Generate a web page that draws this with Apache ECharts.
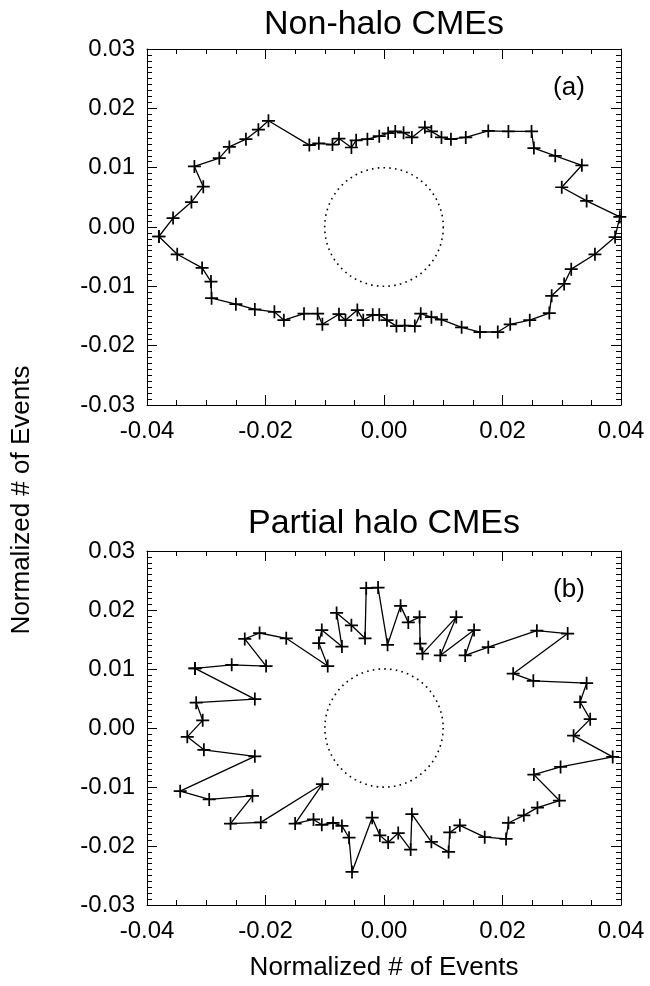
<!DOCTYPE html>
<html>
<head>
<meta charset="utf-8">
<script src="https://cdn.jsdelivr.net/npm/echarts@6/dist/echarts.min.js"></script>
<style>
  html, body { margin: 0; padding: 0; background: #fff; }
  #chart { width: 650px; height: 986px; }
</style>
</head>
<body>
<div id="chart"></div>
<script>
// Non-halo CMEs (a): points in drawing order around the curve
const nonHaloX = [-0.0380, -0.0356, -0.0325, -0.0305, -0.0320, -0.0278, -0.0261, -0.0233, -0.0212, -0.0195,
  -0.0126, -0.0110, -0.0087, -0.0076, -0.0055, -0.0047, -0.0028, -0.0008, 0.0007, 0.0019,
  0.0033, 0.0047, 0.0069, 0.0080, 0.0097, 0.0113, 0.0138, 0.0176, 0.0210, 0.0249,
  0.0253, 0.0289, 0.0334, 0.0300, 0.0342, 0.0398, 0.0390, 0.0356, 0.0316, 0.0304,
  0.0283, 0.0279, 0.0246, 0.0213, 0.0192, 0.0162, 0.0131, 0.0097, 0.0080, 0.0062,
  0.0052, 0.0035, 0.0021, 0.0005, -0.0008, -0.0019, -0.0035, -0.0045, -0.0065, -0.0076,
  -0.0104, -0.0112, -0.0135, -0.0169, -0.0185, -0.0218, -0.0250, -0.0291, -0.0292, -0.0307,
  -0.0349];
const nonHaloY = [-0.0016, 0.0015, 0.0042, 0.0068, 0.0102, 0.0116, 0.0135, 0.0148, 0.0164, 0.0179,
  0.0138, 0.0141, 0.0139, 0.0149, 0.0134, 0.0146, 0.0148, 0.0153, 0.0158, 0.0161,
  0.0159, 0.0151, 0.0168, 0.0161, 0.0151, 0.0148, 0.0151, 0.0162, 0.0161, 0.0161,
  0.0133, 0.0120, 0.0104, 0.0067, 0.0044, 0.0017, -0.0017, -0.0046, -0.0071, -0.0096,
  -0.0116, -0.0145, -0.0157, -0.0164, -0.0177, -0.0177, -0.0169, -0.0156, -0.0152, -0.0146,
  -0.0167, -0.0166, -0.0167, -0.0157, -0.0148, -0.0148, -0.0157, -0.0140, -0.0157, -0.0147,
  -0.0164, -0.0146, -0.0146, -0.0157, -0.0143, -0.0139, -0.0130, -0.0120, -0.0092, -0.0069,
  -0.0046];

// Partial halo CMEs (b)
const partialX = [-0.0319, -0.0257, -0.0199, -0.0235, -0.0210, -0.0165, -0.0095, -0.0110, -0.0105, -0.0071,
  -0.0080, -0.0055, -0.0032, -0.0030, -0.0010, 0.0006, 0.0028, 0.0041, 0.0060, 0.0061,
  0.0065, 0.0122, 0.0095, 0.0152, 0.0137, 0.0176, 0.0258, 0.0310, 0.0218, 0.0252,
  0.0342, 0.0331, 0.0348, 0.0320, 0.0386, 0.0298, 0.0253, 0.0296, 0.0259, 0.0236,
  0.0210, 0.0206, 0.0170, 0.0128, 0.0111, 0.0109, 0.0080, 0.0047, 0.0045, 0.0024,
  0.0007, -0.0007, -0.0020, -0.0054, -0.0059, -0.0071, -0.0086, -0.0105, -0.0119, -0.0150,
  -0.0104, -0.0208, -0.0259, -0.0222, -0.0295, -0.0344, -0.0218, -0.0304, -0.0332, -0.0306,
  -0.0317, -0.0218];
const partialY = [0.0101, 0.0107, 0.0105, 0.0151, 0.0161, 0.0152, 0.0105, 0.0144, 0.0166, 0.0138,
  0.0195, 0.0174, 0.0152, 0.0237, 0.0238, 0.0141, 0.0207, 0.0179, 0.0188, 0.0143,
  0.0126, 0.0188, 0.0123, 0.0166, 0.0123, 0.0137, 0.0165, 0.0160, 0.0092, 0.0080,
  0.0076, 0.0044, 0.0015, -0.0013, -0.0049, -0.0066, -0.0079, -0.0123, -0.0135, -0.0148,
  -0.0161, -0.0188, -0.0185, -0.0165, -0.0177, -0.0210, -0.0193, -0.0146, -0.0206, -0.0178,
  -0.0194, -0.0182, -0.0152, -0.0244, -0.0186, -0.0166, -0.0161, -0.0164, -0.0155, -0.0162,
  -0.0095, -0.0160, -0.0162, -0.0115, -0.0121, -0.0107, -0.0048, -0.0037, -0.0015, 0.0013,
  0.0043, 0.0049];

// dotted reference circle (centre x, centre y, radius)
const refCircle = [[0, 0, 0.01]];

const panelTitles = ['Non-halo CMEs', 'Partial halo CMEs'];
const panelTags = ['(a)', '(b)'];
const axisName = 'Normalized # of Events';

const FONT = '"Liberation Sans", Arial, Helvetica, sans-serif';
const PLUS = 'path://M5.2,0h1.6v5.2h5.2v1.6h-5.2v5.2h-1.6v-5.2h-5.2v-1.6h5.2z';

const grids = [
  { left: 147, top: 49, width: 474, height: 356 },
  { left: 147, top: 551, width: 474, height: 354 }
];

function fmt(v) {
  if (Math.abs(v) < 1e-9) return '0.00';
  return v.toFixed(2);
}

function closedPath(xs, ys) {
  const pts = xs.map((x, i) => [x, ys[i]]);
  pts.push(pts[0]);
  return pts;
}

function makeX(gridIndex, position, labels) {
  return {
    type: 'value', gridIndex: gridIndex, position: position,
    min: -0.04, max: 0.04, interval: 0.02,
    axisLine: { show: true, onZero: false, lineStyle: { color: '#000', width: 1 } },
    axisTick: { show: true, inside: true, length: 10, lineStyle: { color: '#000' } },
    minorTick: { show: true, splitNumber: 4, length: 5, lineStyle: { color: '#000' } },
    splitLine: { show: false },
    axisLabel: { show: labels, margin: 14, color: '#000', fontSize: 24, fontFamily: FONT, formatter: fmt }
  };
}

function makeY(gridIndex, position, labels) {
  return {
    type: 'value', gridIndex: gridIndex, position: position,
    min: -0.03, max: 0.03, interval: 0.01,
    axisLine: { show: true, onZero: false, lineStyle: { color: '#000', width: 1 } },
    axisTick: { show: true, inside: true, length: 10, lineStyle: { color: '#000' } },
    minorTick: { show: true, splitNumber: 10, length: 5, lineStyle: { color: '#000' } },
    splitLine: { show: false },
    axisLabel: { show: labels, margin: 12, color: '#000', fontSize: 24, fontFamily: FONT, formatter: fmt }
  };
}

function curveSeries(idx, data) {
  return {
    type: 'line', xAxisIndex: idx * 2, yAxisIndex: idx * 2,
    data: data,
    symbol: PLUS, symbolSize: 13, showAllSymbol: true,
    itemStyle: { color: '#000' },
    lineStyle: { color: '#000', width: 1.3 },
    animation: false, z: 3
  };
}

function circleSeries(idx) {
  return {
    type: 'custom', xAxisIndex: idx * 2, yAxisIndex: idx * 2,
    data: refCircle,
    renderItem: function (params, api) {
      const c = api.coord([api.value(0), api.value(1)]);
      const s = api.size([api.value(2), api.value(2)]);
      return {
        type: 'circle',
        shape: { cx: c[0], cy: c[1], r: (s[0] + s[1]) / 2 },
        style: { fill: 'none', stroke: '#000', lineWidth: 1.6, lineDash: [1.6, 4.2] }
      };
    },
    animation: false, silent: true
  };
}

const chart = echarts.init(document.getElementById('chart'), null, { renderer: 'canvas' });

const texts = [];
panelTitles.forEach((t, i) => {
  texts.push({
    type: 'text', x: 384, y: i === 0 ? 25 : 524,
    style: { text: t, font: '34px ' + FONT, fill: '#000', textAlign: 'center', textVerticalAlign: 'middle' }
  });
  texts.push({
    type: 'text', x: 569, y: i === 0 ? 88 : 590,
    style: { text: panelTags[i], font: '26px ' + FONT, fill: '#000', textAlign: 'center', textVerticalAlign: 'middle' }
  });
});
texts.push({
  type: 'text', x: 22, y: 500, rotation: Math.PI / 2,
  style: { text: axisName, font: '26px ' + FONT, fill: '#000', textAlign: 'center', textVerticalAlign: 'middle' }
});
texts.push({
  type: 'text', x: 384, y: 968,
  style: { text: axisName, font: '26px ' + FONT, fill: '#000', textAlign: 'center', textVerticalAlign: 'middle' }
});

chart.setOption({
  animation: false,
  backgroundColor: '#fff',
  textStyle: { fontFamily: FONT },
  grid: grids,
  xAxis: [makeX(0, 'bottom', true), makeX(0, 'top', false), makeX(1, 'bottom', true), makeX(1, 'top', false)],
  yAxis: [makeY(0, 'left', true), makeY(0, 'right', false), makeY(1, 'left', true), makeY(1, 'right', false)],
  series: [
    circleSeries(0),
    curveSeries(0, closedPath(nonHaloX, nonHaloY)),
    circleSeries(1),
    curveSeries(1, closedPath(partialX, partialY))
  ],
  graphic: texts
});
window.addEventListener('resize', () => chart.resize());
</script>
</body>
</html>
